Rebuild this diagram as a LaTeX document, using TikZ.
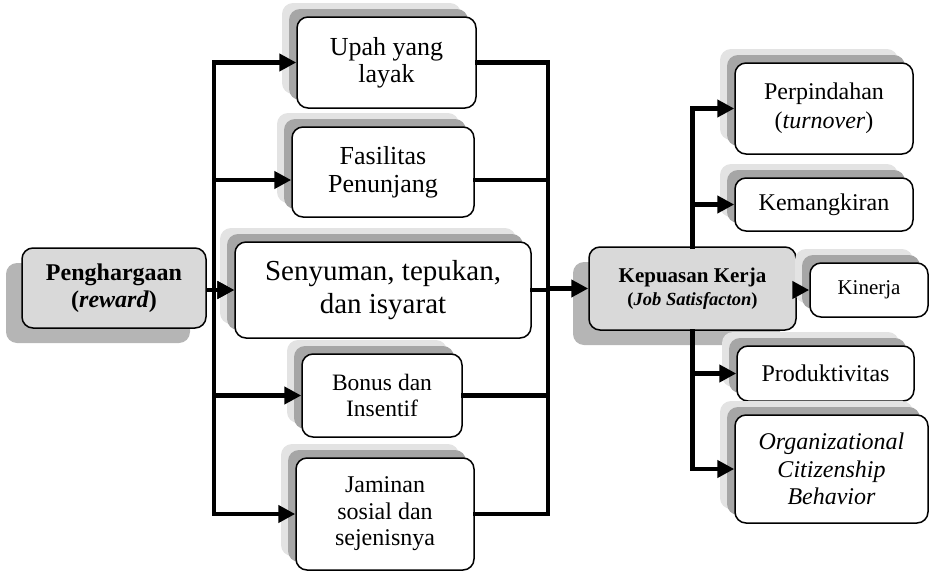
\documentclass[tikz,border=0pt]{standalone}
\usepackage{fontspec}
\setmainfont{Liberation Serif}
\usepackage{tikz}
\usetikzlibrary{positioning,arrows.meta,shadows}
\definecolor{kgray}{HTML}{D9D9D9}
\definecolor{sdark}{HTML}{A6A6A6}
\definecolor{slight}{HTML}{E3E3E3}
\definecolor{smid}{HTML}{B5B5B5}
\newcommand{\fs}[2]{\fontsize{#1}{#2}\selectfont}

\begin{document}
\begin{tikzpicture}[x=1pt, y=-1pt,
  box/.style={draw, line width=1.5pt, rounded corners=11pt, fill=white, align=center, inner sep=0pt,
    general shadow={shadow xshift=-15pt, shadow yshift=14pt, fill=slight},
    general shadow={shadow xshift=-8pt, shadow yshift=8pt, fill=sdark}},
  key/.style={draw, line width=1.5pt, rounded corners=11pt, fill=kgray, align=center, inner sep=0pt,
    general shadow={shadow xshift=-16pt, shadow yshift=-15pt, fill=smid}},
  bus/.style={line width=4.5pt, line cap=rect},
  arr/.style={line width=4.5pt, -{Triangle[length=17pt, width=17pt]}}]
\useasboundingbox (0,0) rectangle (930,573);

% reward
\node[key, minimum width=184pt, minimum height=80pt, font=\fs{24}{27}\bfseries] (pengh) at (114,288) {Penghargaan\\(\textit{reward})};

% forms of reward
\node[box, minimum width=179pt, minimum height=91pt, font=\fs{26}{27}] (upah) at (386.5,62.5) {Upah yang\\layak};
\node[box, minimum width=182pt, minimum height=90pt, font=\fs{26}{28}] (fasil) at (383,172) {Fasilitas\\Penunjang};
\node[box, minimum width=296pt, minimum height=96pt, font=\fs{29}{33}] (senyum) at (383,290) {Senyuman, tepukan,\\dan isyarat};
\node[box, minimum width=160pt, minimum height=83pt, font=\fs{23.5}{25.5}] (bonus) at (382,395.5) {Bonus dan\\Insentif};
\node[box, minimum width=178pt, minimum height=112pt, font=\fs{24}{26.5}] (jamin) at (385,514) {Jaminan\\sosial dan\\sejenisnya};

% satisfaction
\node[key, minimum width=207pt, minimum height=83pt, font=\fs{21}{23}\bfseries] (kepuas) at (692.5,288.5) {Kepuasan Kerja\\{\fs{18.5}{21}(\textit{Job Satisfacton})}};

% outcomes
\node[box, minimum width=178pt, minimum height=91pt, font=\fs{24}{29}] (pindah) at (824,108.5) {Perpindahan\\(\textit{turnover})};
\node[box, minimum width=178pt, minimum height=53pt, font=\fs{24}{27}] (mangkir) at (824,204.5) {Kemangkiran};
\node[box, minimum width=118pt, minimum height=54pt, font=\fs{21}{24}] (kinerja) at (869,290) {Kinerja};
\node[box, minimum width=177pt, minimum height=55pt, font=\fs{24}{27}] (produk) at (825.5,373.5) {Produktivitas};
\node[box, minimum width=193pt, minimum height=108pt, font=\fs{24}{27.5}\itshape] (ocb) at (831.5,469) {Organizational\\Citizenship\\Behavior};

\coordinate (lbus) at (214,0);
\coordinate (rbus) at (548,0);

% left bus
\draw[bus] (lbus |- upah.west) -- (lbus |- jamin.west);
\draw[arr] (lbus |- upah.west) -- (upah.west);
\draw[arr] (lbus |- 0,180) -- (fasil.west |- 0,180);
\draw[arr] (lbus |- senyum.west) -- (senyum.west);
\draw[arr] (lbus |- bonus.west) -- (bonus.west);
\draw[arr] (lbus |- jamin.west) -- (jamin.west);
\draw[arr] (pengh.east |- senyum.west) -- (senyum.west);

% right bus
\draw[bus] (upah.east) -| (rbus |- jamin.east) -- (jamin.east);
\draw[bus] (fasil.east |- 0,180) -- (rbus |- 0,180);
\draw[bus] (senyum.east) -- (rbus |- senyum.east);
\draw[bus] (bonus.east) -- (rbus |- bonus.east);
\draw[arr] (rbus |- kepuas.west) -- (kepuas.west);

% outcome tree
\draw[bus] (kepuas.north) -- (kepuas.north |- pindah.west);
\draw[bus] (kepuas.south) -- (kepuas.south |- ocb.west);
\draw[arr] (kepuas.north |- pindah.west) -- (pindah.west);
\draw[arr] (kepuas.north |- mangkir.west) -- (mangkir.west);
\draw[arr] (kepuas.east |- kinerja.west) -- (kinerja.west);
\draw[arr] (kepuas.south |- produk.west) -- (produk.west);
\draw[arr] (kepuas.south |- ocb.west) -- (ocb.west);
\end{tikzpicture}
\end{document}
